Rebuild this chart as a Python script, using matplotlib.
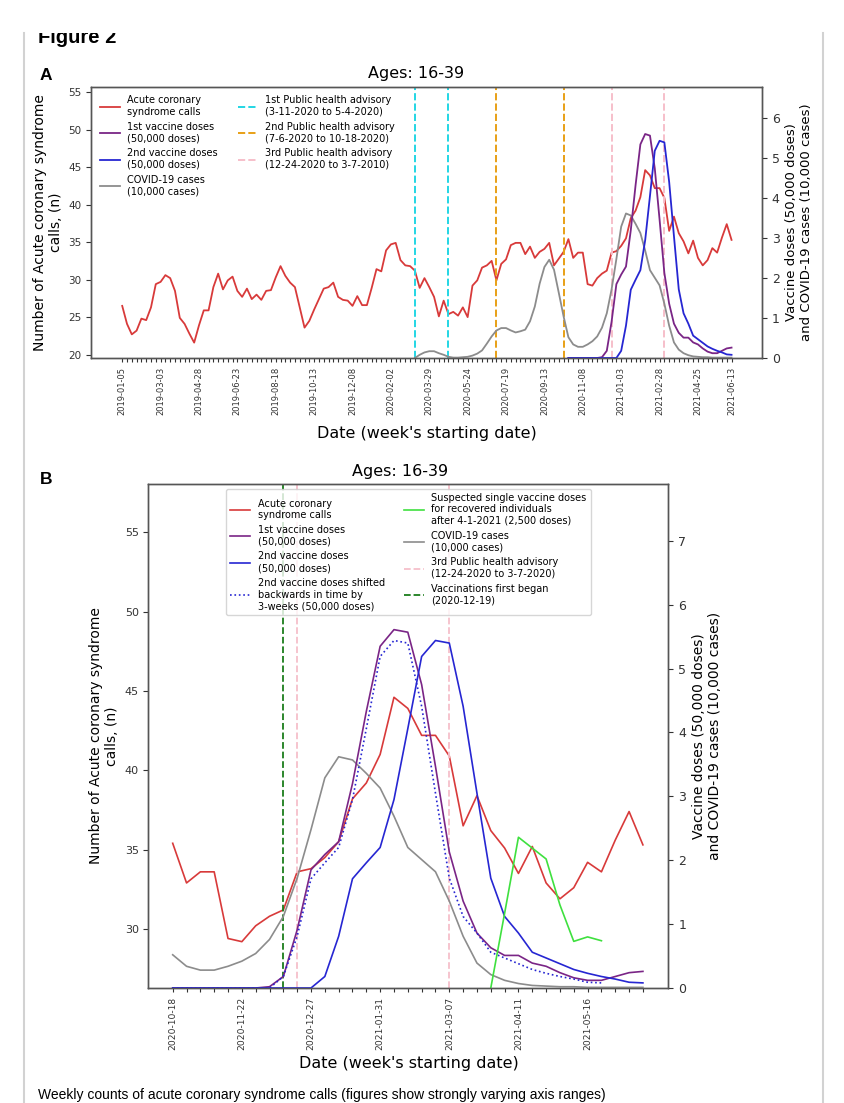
import numpy as np
import pandas as pd
import matplotlib
matplotlib.use('Agg')
import matplotlib.pyplot as plt
from matplotlib.lines import Line2D
from matplotlib.patches import Rectangle

# Weekly acute coronary syndrome calls, ages 16-39 (weeks 2019-01-05 .. 2021-06-13)
acs_calls = [
    26.5, 24.1, 22.7, 23.2, 24.8, 24.6, 26.3, 29.4, 29.7, 30.6,
    30.2, 28.5, 24.9, 24.1, 22.8, 21.6, 23.9, 25.9, 25.9, 29.0,
    30.8, 28.7, 29.9, 30.4, 28.5, 27.7, 28.8, 27.4, 28.0, 27.3,
    28.5, 28.6, 30.3, 31.8, 30.5, 29.6, 29.0, 26.3, 23.6, 24.5,
    26.0, 27.4, 28.8, 29.0, 29.6, 27.7, 27.3, 27.2, 26.5, 27.8,
    26.6, 26.6, 28.9, 31.4, 31.1, 33.9, 34.7, 34.9, 32.6, 31.9,
    31.8, 31.2, 28.9, 30.2, 29.0, 27.7, 25.1, 27.2, 25.4, 25.7,
    25.2, 26.3, 25.0, 29.2, 29.9, 31.6, 31.9, 32.5, 29.9, 32.1,
    32.7, 34.6, 34.9, 34.9, 33.4, 34.4, 32.9, 33.7, 34.1, 34.9,
    31.9, 32.8, 33.7,
    35.4, 32.9, 33.6, 33.6, 29.4, 29.2, 30.2, 30.8, 31.2, 33.6,
    33.8, 34.5, 35.5, 38.2, 39.2, 41.0, 44.6, 43.9, 42.2, 42.2,
    40.9, 36.5, 38.4, 36.2, 35.1, 33.5, 35.2, 32.9, 31.9, 32.6,
    34.2, 33.6, 35.6, 37.4, 35.3,
]

# COVID-19 cases (10,000 cases), from week 2020-03-08
covid_cases = [
    0.0, 0.08, 0.14, 0.17, 0.17, 0.12, 0.08, 0.03, 0.01, 0.01,
    0.02, 0.03, 0.06, 0.11, 0.19, 0.36, 0.54, 0.69, 0.75, 0.75,
    0.69, 0.64, 0.67, 0.71, 0.92, 1.29, 1.86, 2.28, 2.46, 2.21,
    1.63, 1.04,
    0.52, 0.34, 0.28, 0.28, 0.34, 0.42, 0.54, 0.76, 1.12, 1.72,
    2.48, 3.29, 3.62, 3.57, 3.36, 3.13, 2.69, 2.20, 2.01, 1.82,
    1.36, 0.81, 0.39, 0.21, 0.12, 0.07, 0.04, 0.03, 0.02, 0.02,
    0.01, 0.01, 0.01, 0.01, 0.01,
]

# vaccine doses (50,000 doses), from week 2020-10-18
dose1 = [
    0, 0, 0, 0, 0, 0, 0, 0.02, 0.18, 0.91,
    1.85, 2.09, 2.29, 3.20, 4.33, 5.35, 5.61, 5.57, 4.75, 3.47,
    2.13, 1.36, 0.86, 0.63, 0.51, 0.51, 0.39, 0.34, 0.24, 0.16,
    0.12, 0.12, 0.18, 0.24, 0.26,
]
dose2 = [
    0, 0, 0, 0, 0, 0, 0, 0, 0, 0,
    0, 0.18, 0.81, 1.71, 1.96, 2.20, 2.95, 4.06, 5.19, 5.44,
    5.40, 4.41, 3.05, 1.72, 1.12, 0.86, 0.56, 0.47, 0.38, 0.29,
    0.23, 0.18, 0.14, 0.09, 0.08,
]
shift_weeks = 3

# suspected single doses for recovered individuals (2,500 doses), from week 2021-03-28
single_dose = [0.0, 1.17, 2.36, 2.19, 2.02, 1.30, 0.73, 0.80, 0.74]

# week starts of the advisory / vaccination markers
advisory_1 = ['2020-03-08', '2020-04-26']
advisory_2 = ['2020-07-05', '2020-10-11']
advisory_3 = ['2020-12-20', '2021-03-07']
vaccination_start = '2020-12-13'

# week axis
weeks = [pd.Timestamp('2019-01-05')] + list(pd.date_range('2019-01-13', periods=len(acs_calls) - 1, freq='7D'))
week_labels = [d.strftime('%Y-%m-%d') for d in weeks]
covid_start = week_labels.index('2020-03-08')
vacc_start = week_labels.index('2020-10-18')
single_start = week_labels.index('2021-03-28')

RED = '#d83a3a'
PURPLE = '#7a2586'
BLUE = '#2626d2'
GREY = '#8c8c8c'
LIME = '#3fe03f'
CYAN = '#22d6e4'
ORANGE = '#e8a016'
PINK = '#f6bfca'
GREEN = '#1b7d1b'
SPINE = '#555555'

W, H = 845, 1103


def box(left, top, right, bottom):
    return [left / W, 1 - bottom / H, (right - left) / W, (bottom - top) / H]


def style_axes(ax):
    for s in ax.spines.values():
        s.set_color(SPINE)
        s.set_linewidth(1.0)
    ax.tick_params(colors='#333333', width=0.8)


fig = plt.figure(figsize=(W / 100, H / 100), dpi=100)

# ---------------- Panel A ----------------
axA = fig.add_axes(box(91.5, 86.5, 762, 358))
x = np.arange(len(acs_calls))
la_red, = axA.plot(x, acs_calls, color=RED, lw=1.3)
vl = {}
for name, dates, col in [('1', advisory_1, CYAN), ('2', advisory_2, ORANGE), ('3', advisory_3, PINK)]:
    for d in dates:
        vl[name] = axA.axvline(week_labels.index(d), color=col, ls='--', lw=1.4)
axA.set_xlim(-6.4, 133.35)
axA.set_ylim(19.55, 55.75)
axA.set_yticks([20, 25, 30, 35, 40, 45, 50, 55])
axA.tick_params(axis='y', labelsize=7.5)
axA.set_xticks(x)
axA.set_xticklabels([lab if (i % 8 == 0 or i == len(x) - 1) else '' for i, lab in enumerate(week_labels)],
                    rotation=90, fontsize=6)
axA.tick_params(axis='x', length=3)
axA.set_ylabel('Number of Acute coronary syndrome\ncalls, (n)', fontsize=10)
axA.set_xlabel("Date (week's starting date)", fontsize=11.5, labelpad=8)
axA.set_title('Ages: 16-39', fontsize=11.5, x=0.484)

axA2 = axA.twinx()
xv = x[vacc_start:]
la_cov, = axA2.plot(x[covid_start:], covid_cases, color=GREY, lw=1.3)
la_d1, = axA2.plot(xv, dose1, color=PURPLE, lw=1.3)
la_d2, = axA2.plot(xv, dose2, color=BLUE, lw=1.3)
axA2.set_ylim(0, 6.8)
axA2.set_yticks(range(0, 7))
axA2.tick_params(axis='y', labelsize=9)
axA2.set_ylabel('Vaccine doses (50,000 doses)\nand COVID-19 cases (10,000 cases)', fontsize=9.5)
style_axes(axA)
style_axes(axA2)

axA2.legend([la_red, la_d1, la_d2, la_cov, vl['1'], vl['2'], vl['3']],
            ['Acute coronary\nsyndrome calls', '1st vaccine doses\n(50,000 doses)',
             '2nd vaccine doses\n(50,000 doses)', 'COVID-19 cases\n(10,000 cases)',
             '1st Public health advisory\n(3-11-2020 to 5-4-2020)',
             '2nd Public health advisory\n(7-6-2020 to 10-18-2020)',
             '3rd Public health advisory\n(12-24-2020 to 3-7-2010)'],
            loc='upper left', ncol=2, fontsize=7, frameon=False)

# ---------------- Panel B ----------------
axB = fig.add_axes(box(148.5, 484, 668.5, 988))
xb = np.arange(len(dose1))
calls_b = acs_calls[vacc_start:]
lb_red, = axB.plot(xb, calls_b, color=RED, lw=1.2)
lb_green = axB.axvline(week_labels.index(vaccination_start) - vacc_start, color=GREEN, ls='--', lw=1.3)
for d in advisory_3:
    lb_pink = axB.axvline(week_labels.index(d) - vacc_start, color=PINK, ls='--', lw=1.3)
axB.set_xlim(-1.75, 35.85)
axB.set_ylim(26.28, 58.04)
axB.set_yticks([30, 35, 40, 45, 50, 55])
axB.tick_params(axis='y', labelsize=8)
axB.set_xticks(xb)
axB.set_xticklabels([lab if i % 5 == 0 else '' for i, lab in enumerate(week_labels[vacc_start:])],
                    rotation=90, fontsize=6.6)
axB.tick_params(axis='x', length=3)
axB.set_ylabel('Number of Acute coronary syndrome\ncalls, (n)', fontsize=10)
axB.set_xlabel("Date (week's starting date)", fontsize=11.5)
axB.set_title('Ages: 16-39', fontsize=11.5, x=0.484)

axB2 = axB.twinx()
lb_cov, = axB2.plot(xb, covid_cases[vacc_start - covid_start:], color=GREY, lw=1.2)
lb_d1, = axB2.plot(xb, dose1, color=PURPLE, lw=1.2)
lb_d2, = axB2.plot(xb, dose2, color=BLUE, lw=1.2)
lb_shift, = axB2.plot(xb[:-shift_weeks], dose2[shift_weeks:], color=BLUE, lw=1.2, ls=':')
xs = np.arange(single_start - vacc_start, single_start - vacc_start + len(single_dose))
lb_single, = axB2.plot(xs, single_dose, color=LIME, lw=1.2)
axB2.set_ylim(0, 7.89)
axB2.set_yticks(range(0, 8))
axB2.tick_params(axis='y', labelsize=9)
axB2.set_ylabel('Vaccine doses (50,000 doses)\nand COVID-19 cases (10,000 cases)', fontsize=10)
style_axes(axB)
style_axes(axB2)

axB2.legend([lb_red, lb_d1, lb_d2, lb_shift, lb_single, lb_cov, lb_pink, lb_green],
            ['Acute coronary\nsyndrome calls', '1st vaccine doses\n(50,000 doses)',
             '2nd vaccine doses\n(50,000 doses)',
             '2nd vaccine doses shifted\nbackwards in time by\n3-weeks (50,000 doses)',
             'Suspected single vaccine doses\nfor recovered individuals\nafter 4-1-2021 (2,500 doses)',
             'COVID-19 cases\n(10,000 cases)',
             '3rd Public health advisory\n(12-24-2020 to 3-7-2020)',
             'Vaccinations first began\n(2020-12-19)'],
            loc='upper center', ncol=2, fontsize=7)

# ---------------- page decoration ----------------
doc_font = ['Liberation Sans', 'DejaVu Sans']
fig.text(38 / W, 1 - 43 / H, 'Figure 2', fontsize=14.5, fontweight='bold', family=doc_font, va='baseline')
fig.text(40 / W, 1 - 80 / H, 'A', fontsize=12.5, fontweight='bold', family=doc_font, va='baseline')
fig.text(40 / W, 1 - 484 / H, 'B', fontsize=12.5, fontweight='bold', family=doc_font, va='baseline')
fig.text(38 / W, 1 - 1101.5 / H,
         'Weekly counts of acute coronary syndrome calls (figures show strongly varying axis ranges)',
         fontsize=10, family=doc_font, va='bottom')
fig.add_artist(Rectangle((0, 1 - 33 / H), 1, 33 / H, transform=fig.transFigure,
                         facecolor='white', edgecolor='none', zorder=10))
for xp in (24, 823):
    fig.add_artist(Line2D([xp / W, xp / W], [0, 1 - 33 / H], transform=fig.transFigure,
                          color='#d2d2d2', lw=1.5, zorder=11))

fig.savefig('out.png', dpi=100)
